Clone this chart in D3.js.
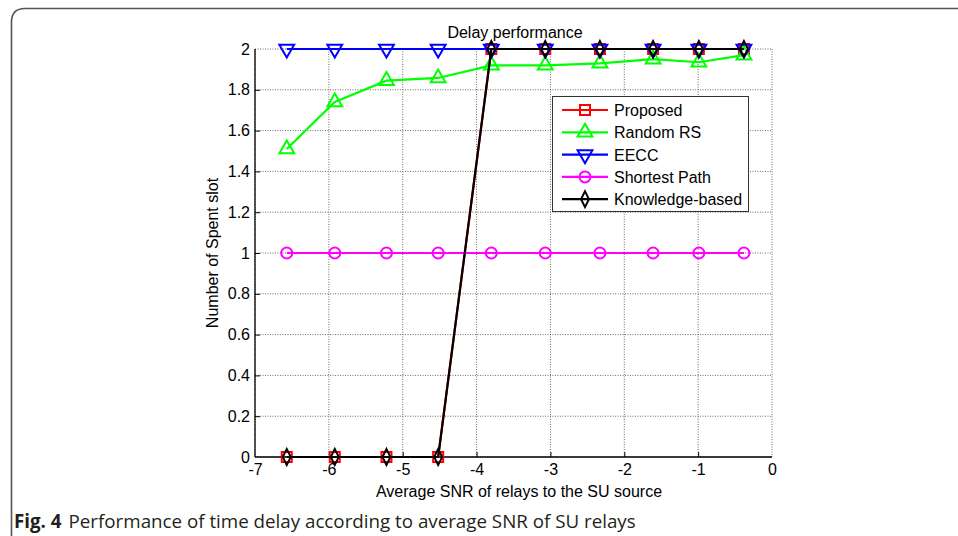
<!DOCTYPE html>
<html><head><meta charset="utf-8">
<script src="https://cdn.jsdelivr.net/npm/d3@7"></script>
<style>body{margin:0;background:#fff}svg{display:block}</style>
</head><body>
<svg id="c" width="958" height="536"></svg>
<script>
const snr = [-6.57, -5.92, -5.22, -4.52, -3.80, -3.07, -2.33, -1.61, -0.99, -0.38];
const proposed = [0, 0, 0, 0, 2, 2, 2, 2, 2, 2];
const randomRS = [1.51, 1.74, 1.845, 1.858, 1.92, 1.92, 1.93, 1.95, 1.935, 1.97];
const eecc = [2, 2, 2, 2, 2, 2, 2, 2, 2, 2];
const shortest = [1, 1, 1, 1, 1, 1, 1, 1, 1, 1];
const knowledge = [0, 0, 0, 0, 2, 2, 2, 2, 2, 2];
const xTicks = [-7, -6, -5, -4, -3, -2, -1, 0];
const yTicks = [0, 0.2, 0.4, 0.6, 0.8, 1, 1.2, 1.4, 1.6, 1.8, 2];
const seriesNames = ["Proposed", "Random RS", "EECC", "Shortest Path", "Knowledge-based"];

const series = [
  {name: seriesNames[0], values: proposed, color: "#ff0000", marker: "square"},
  {name: seriesNames[1], values: randomRS, color: "#00ff00", marker: "up"},
  {name: seriesNames[2], values: eecc, color: "#0000ff", marker: "down"},
  {name: seriesNames[3], values: shortest, color: "#ff00ff", marker: "circle"},
  {name: seriesNames[4], values: knowledge, color: "#000000", marker: "diamond"}
];

const svg = d3.select("#c");
const L = 255, R = 772, T = 49, B = 457;
const x = d3.scaleLinear().domain([-7, 0]).range([L, R]);
const y = d3.scaleLinear().domain([0, 2]).range([B, T]);
const font = "Arial, 'Liberation Sans', sans-serif";
const fs = 16;

// outer frame
svg.append("path")
  .attr("d", "M11.5,536 L11.5,22 Q11.5,8.5 25,8.5 L958,8.5")
  .attr("fill", "none").attr("stroke", "#555").attr("stroke-width", 1.6);

// grid
const g = svg.append("g");
g.selectAll(".gx").data(xTicks).enter().append("line")
  .attr("x1", d => x(d)).attr("x2", d => x(d)).attr("y1", T).attr("y2", B)
  .attr("stroke", "#444").attr("stroke-width", 0.8).attr("stroke-dasharray", "1,1.5");
g.selectAll(".gy").data(yTicks).enter().append("line")
  .attr("x1", L).attr("x2", R).attr("y1", d => y(d)).attr("y2", d => y(d))
  .attr("stroke", "#444").attr("stroke-width", 0.8).attr("stroke-dasharray", "1,1.5");

// axes
const xa = svg.append("g").attr("transform", `translate(0,${B})`)
  .call(d3.axisBottom(x).tickValues(xTicks).tickSize(-5).tickPadding(7).tickFormat(d => d < 0 ? "-" + Math.abs(d) : String(d)));
const ya = svg.append("g").attr("transform", `translate(${L},0)`)
  .call(d3.axisLeft(y).tickValues(yTicks).tickSize(-5).tickPadding(5).tickFormat(d => d === 0 ? "0" : String(+d.toFixed(1))));
[xa, ya].forEach(a => {
  a.select(".domain").attr("stroke", "#000").attr("stroke-width", 1.3);
  a.selectAll(".tick line").attr("stroke", "#000").attr("stroke-width", 1);
  a.selectAll("text").attr("font-family", font).attr("font-size", fs).attr("fill", "#000");
});
xa.select(".domain").attr("d", `M${L},0H${R}`);
ya.select(".domain").attr("d", `M0,${B}V${T}`);
xa.selectAll(".tick").filter(d => d === -7 || d === 0).select("line").remove();
ya.selectAll(".tick").filter(d => d === 0 || d === 2).select("line").remove();

// lines
const line = d3.line().x((d, i) => x(snr[i])).y(d => y(d));
const symbolFor = m => ({
  square: d3.symbolSquare, up: d3.symbolTriangle, down: d3.symbolTriangle,
  circle: d3.symbolCircle, diamond: d3.symbolDiamond
})[m];
const sizeFor = m => ({square: 100, up: 95, down: 95, circle: 95, diamond: 60})[m];

function drawMarker(sel, m, color, cx, cy) {
  const p = sel.append("path")
    .attr("d", d3.symbol().type(symbolFor(m)).size(sizeFor(m))())
    .attr("fill", "none").attr("stroke", color).attr("stroke-width", 2);
  let tr = `translate(${cx},${cy})`;
  if (m === "down") tr += " rotate(180)";
  if (m === "diamond") tr += " scale(0.95,1.1)";
  p.attr("transform", tr);
  return p;
}

series.forEach(s => {
  svg.append("path").datum(s.values).attr("d", line)
    .attr("fill", "none").attr("stroke", s.color).attr("stroke-width", 2.2);
  const mg = svg.append("g");
  s.values.forEach((v, i) => drawMarker(mg, s.marker, s.color, x(snr[i]), y(v)));
});

// title and labels
svg.append("text").attr("x", 515).attr("y", 38).attr("text-anchor", "middle")
  .attr("font-family", font).attr("font-size", fs).text("Delay performance");
svg.append("text").attr("x", 519).attr("y", 497).attr("text-anchor", "middle")
  .attr("font-family", font).attr("font-size", fs).text("Average SNR of relays to the SU source");
svg.append("text").attr("transform", `translate(218,253) rotate(-90)`).attr("text-anchor", "middle")
  .attr("font-family", font).attr("font-size", fs).text("Number of Spent slot");

// legend
const lg = svg.append("g");
lg.append("rect").attr("x", 552.5).attr("y", 96.5).attr("width", 196).attr("height", 115)
  .attr("fill", "#fff").attr("stroke", "#333").attr("stroke-width", 1);
series.forEach((s, i) => {
  const ly = 110 + i * 22.3;
  lg.append("line").attr("x1", 562).attr("x2", 608).attr("y1", ly).attr("y2", ly)
    .attr("stroke", s.color).attr("stroke-width", 2.2);
  drawMarker(lg, s.marker, s.color, 585, ly);
  lg.append("text").attr("x", 614).attr("y", ly + 6).attr("font-family", font)
    .attr("font-size", fs).text(s.name);
});

// caption
const cap = svg.append("text").attr("x", 14).attr("y", 528)
  .attr("font-family", "'Open Sans', 'Noto Sans', sans-serif").attr("font-size", 18.75).attr("fill", "#231f20");
cap.append("tspan").attr("font-weight", "bold").text("Fig. 4");
cap.append("tspan").attr("dx", 7).text("Performance of time delay according to average SNR of SU relays");
</script>
</body></html>
